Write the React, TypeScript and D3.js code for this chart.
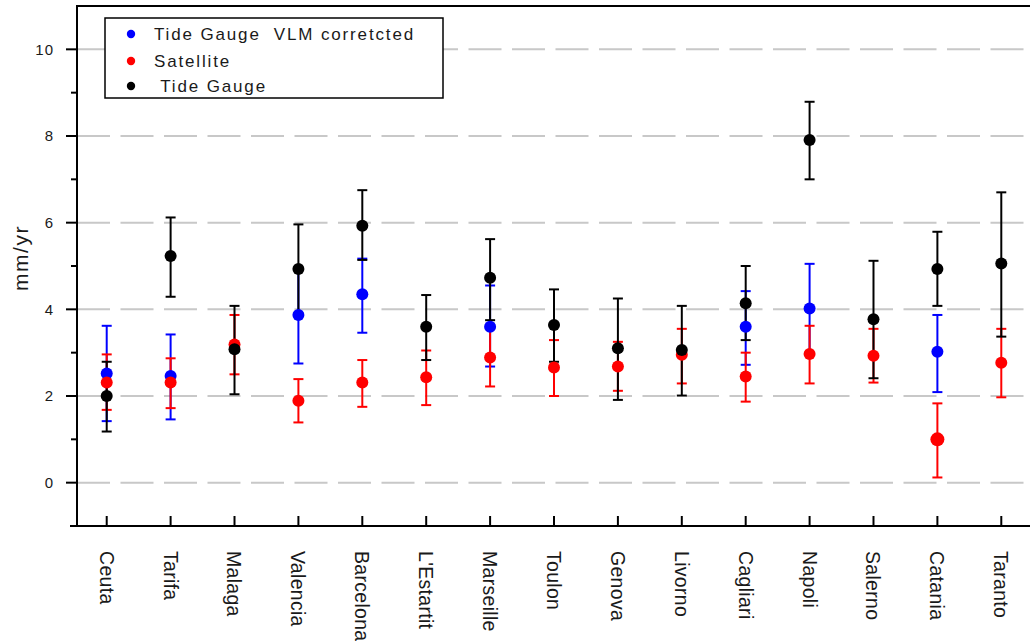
import React from "react";
import * as d3 from "d3";

const categories = ["Ceuta", "Tarifa", "Malaga", "Valencia", "Barcelona", "L'Estartit", "Marseille", "Toulon", "Genova", "Livorno", "Cagliari", "Napoli", "Salerno", "Catania", "Taranto"];

const vlmValue = [2.52, 2.46, null, 3.87, 4.35, null, 3.6, null, null, null, 3.6, 4.02, null, 3.02, null];
const vlmLow = [1.42, 1.46, null, 2.75, 3.46, null, 2.68, null, null, null, 2.72, 2.99, null, 2.09, null];
const vlmHigh = [3.62, 3.42, null, 4.95, 5.17, null, 4.55, null, null, null, 4.42, 5.05, null, 3.87, null];

const satValue = [2.31, 2.31, 3.19, 1.89, 2.31, 2.43, 2.89, 2.66, 2.68, 2.95, 2.45, 2.97, 2.93, 1.0, 2.77];
const satLow = [1.68, 1.72, 2.5, 1.39, 1.75, 1.79, 2.22, 2.0, 2.12, 2.29, 1.87, 2.29, 2.31, 0.12, 1.97];
const satHigh = [2.96, 2.87, 3.87, 2.39, 2.83, 3.05, 3.59, 3.29, 3.25, 3.55, 3.0, 3.62, 3.55, 1.83, 3.55];

const tgValue = [2.0, 5.23, 3.08, 4.93, 5.93, 3.6, 4.73, 3.64, 3.1, 3.06, 4.14, 7.91, 3.77, 4.93, 5.06];
const tgLow = [1.18, 4.29, 2.04, 3.9, 5.14, 2.83, 3.75, 2.79, 1.91, 2.01, 3.29, 7.0, 2.41, 4.08, 3.37];
const tgHigh = [2.79, 6.12, 4.08, 5.96, 6.75, 4.33, 5.62, 4.46, 4.25, 4.08, 5.0, 8.79, 5.12, 5.79, 6.7];

const majorTicks = [0, 2, 4, 6, 8, 10];
const minorTicks = [-1, 1, 3, 5, 7, 9];

const seriesNames = ["Tide Gauge  VLM corretcted", "Satellite", " Tide Gauge"];

const W = 1030;
const H = 643;
const left = 77;
const top = 6;
const bottom = 526;
const right = 1031;

export default function App() {
  const x = d3.scalePoint<string>().domain(categories).range([left, right]).padding(0.465);
  const y = d3.scaleLinear().domain([-1, 11]).range([bottom, top]);

  const series = [
    { name: seriesNames[0], color: "#0000ff", v: vlmValue, lo: vlmLow, hi: vlmHigh },
    { name: seriesNames[1], color: "#ff0000", v: satValue, lo: satLow, hi: satHigh },
    { name: seriesNames[2], color: "#000000", v: tgValue, lo: tgLow, hi: tgHigh },
  ];

  const cap = 5;

  return (
    <svg width={W} height={H} style={{ position: "absolute", left: 0, top: 0 }} fontFamily="Arial, 'Liberation Sans', sans-serif">
      <rect x={0} y={0} width={W} height={H} fill="#fff" />
      {majorTicks.map((t) => (
        <line key={"g" + t} x1={left} x2={W} y1={y(t)} y2={y(t)} stroke="#c8c8c8" strokeWidth={2} strokeDasharray="33 10.5" />
      ))}
      <line x1={left} x2={left} y1={top} y2={bottom} stroke="#000" strokeWidth={2} />
      <line x1={left - 1} x2={W} y1={top} y2={top} stroke="#000" strokeWidth={2} />
      <line x1={70} x2={W} y1={bottom} y2={bottom} stroke="#000" strokeWidth={2} />
      {majorTicks.map((t) => (
        <g key={"yt" + t}>
          <line x1={left - 11} x2={left} y1={y(t)} y2={y(t)} stroke="#000" strokeWidth={2} />
          <text x={54} y={y(t)} dy="0.36em" textAnchor="end" fontSize={15} letterSpacing={1} fill="#1a1a1a">{t}</text>
        </g>
      ))}
      {minorTicks.map((t) => (
        <line key={"ym" + t} x1={left - 6} x2={left} y1={y(t)} y2={y(t)} stroke="#000" strokeWidth={2} />
      ))}
      <text transform={`translate(28,${258}) rotate(-90)`} textAnchor="middle" fontSize={21} letterSpacing={1.5} fill="#1a1a1a">mm/yr</text>
      {categories.map((c) => (
        <g key={"xt" + c}>
          <line x1={x(c)!} x2={x(c)!} y1={bottom} y2={bottom - 10} stroke="#000" strokeWidth={2} />
          <text transform={`translate(${x(c)!},${551}) rotate(90)`} dy="0.36em" textAnchor="start" fontSize={19.5} letterSpacing={0.3} fill="#1a1a1a">{c}</text>
        </g>
      ))}
      {series.map((s) => (
        <g key={"eb" + s.name}>
          {categories.map((c, i) => {
            if (s.v[i] == null) return null;
            const cx = x(c)!;
            const y1 = y(s.lo[i] as number);
            const y2 = y(s.hi[i] as number);
            return (
              <g key={c} stroke={s.color} strokeWidth={2}>
                <line x1={cx} x2={cx} y1={y1} y2={y2} />
                <line x1={cx - cap} x2={cx + cap} y1={y1} y2={y1} />
                <line x1={cx - cap} x2={cx + cap} y1={y2} y2={y2} />
              </g>
            );
          })}
        </g>
      ))}
      {series.map((s) => (
        <g key={"pt" + s.name}>
          {categories.map((c, i) => {
            if (s.v[i] == null) return null;
            const r = c === "Catania" && s.color === "#ff0000" ? 7 : 6;
            return <circle key={c} cx={x(c)!} cy={y(s.v[i] as number)} r={r} fill={s.color} />;
          })}
        </g>
      ))}
      <rect x={105} y={18} width={338} height={80} fill="#fff" stroke="#000" strokeWidth={1.5} />
      {series.map((s, i) => {
        const ly = [34, 61, 86][i];
        return (
          <g key={"lg" + i}>
            <circle cx={131} cy={ly} r={4.2} fill={s.color} />
            <text x={154} y={ly} dy="0.36em" fontSize={17} letterSpacing={1.85} fill="#1a1a1a" style={{ whiteSpace: "pre" }}>{s.name}</text>
          </g>
        );
      })}
    </svg>
  );
}
